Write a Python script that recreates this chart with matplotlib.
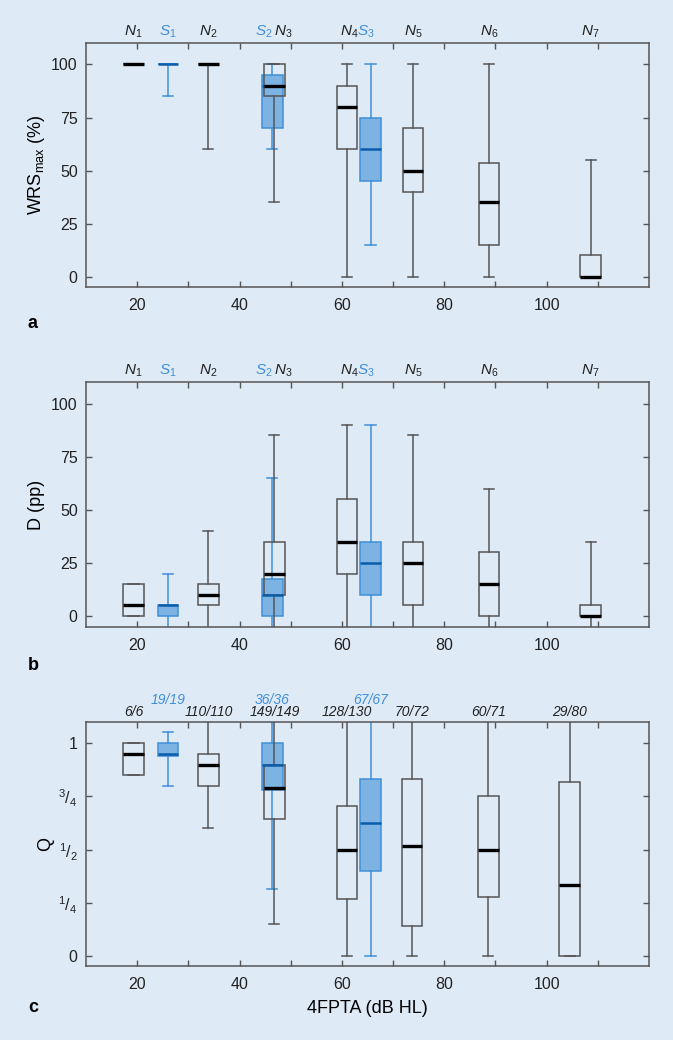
import numpy as np
import matplotlib
matplotlib.use("Agg")
import matplotlib.pyplot as plt
import matplotlib.transforms as mtransforms

plt.rcParams['font.family'] = ['Liberation Sans', 'DejaVu Sans']
plt.rcParams['mathtext.fontset'] = 'custom'
plt.rcParams['mathtext.rm'] = 'Liberation Sans'
plt.rcParams['mathtext.it'] = 'Liberation Sans:italic'

## Data
groups = ["N1", "S1", "N2", "S2", "N3", "N4", "S3", "N5", "N6", "N7"]
kinds = ["N", "S", "N", "S", "N", "N", "S", "N", "N", "N"]
pos_ab = [19.3, 26.0, 33.9, 46.4, 46.8, 61.0, 65.6, 73.9, 88.7, 108.6]
pos_c = [19.3, 26.0, 33.9, 46.4, 46.8, 61.0, 65.6, 73.7, 88.6, 104.5]

# a: WRS_max (%)
wrs_lo = [100, 85, 60, 60, 35, 0, 15, 0, 0, 0]
wrs_q1 = [100, 100, 100, 70, 85, 60, 45, 40, 15, 0]
wrs_med = [100, 100, 100, 90, 90, 80, 60, 50, 35, 0]
wrs_q3 = [100, 100, 100, 95, 100, 90, 75, 70, 53.75, 10]
wrs_hi = [100, 100, 100, 100, 100, 100, 100, 100, 100, 55]

# b: D (pp)
d_lo = [0, -15, -15, -15, -15, -15, -15, -15, -15, -15]
d_q1 = [0, 0, 5, 0, 10, 20, 10, 5, 0, 0]
d_med = [5, 5, 10, 10, 20, 35, 25, 25, 15, 0]
d_q3 = [15, 5, 15, 17.5, 35, 55, 35, 35, 30, 5]
d_hi = [15, 20, 40, 65, 85, 90, 90, 85, 60, 35]

# c: Q
q_lo = [0.85, 0.80, 0.60, 0.315, 0.15, 0.0, 0.0, 0.0, 0.0, 0.0]
q_q1 = [0.85, 0.942, 0.80, 0.78, 0.643, 0.27, 0.40, 0.143, 0.276, 0.0]
q_med = [0.95, 0.95, 0.90, 0.90, 0.788, 0.50, 0.624, 0.517, 0.50, 0.334]
q_q3 = [1.0, 1.0, 0.95, 1.0, 0.90, 0.705, 0.834, 0.832, 0.754, 0.818]
q_hi = [1.0, 1.052, 1.2, 1.2, 1.2, 1.2, 1.2, 1.2, 1.2, 1.2]
q_counts = ["6/6", "19/19", "110/110", "36/36", "149/149",
            "128/130", "67/67", "70/72", "60/71", "29/80"]

# label alignment / nudge (points) for the group names above a and b
label_ha = ["center", "center", "center", "right", "left",
            "right", "left", "center", "center", "center"]
label_dx = [0, 0, 0, 0, 0, 8, -10, 0, 0, 0]

BG = "#dfeaf7"
BLUE_FILL = "#7db3e3"
BLUE_EDGE = "#3f8fd8"
BLUE_MED = "#0b5cab"
GREY = "#555555"


def draw_boxes(ax, pos, lo, q1, med, q3, hi):
    # blue (S) first, filled; black (N) on top, unfilled
    for kind in ["S", "N"]:
        idx = [i for i, k in enumerate(kinds) if k == kind]
        stats = [dict(whislo=lo[i], q1=q1[i], med=med[i], q3=q3[i],
                      whishi=hi[i], fliers=[]) for i in idx]
        if kind == "S":
            ec, mc, fc, mlw = BLUE_EDGE, BLUE_MED, BLUE_FILL, 1.8
        else:
            ec, mc, fc, mlw = GREY, "black", "none", 2.4
        ax.bxp(stats, positions=[pos[i] for i in idx], widths=4.0,
               patch_artist=True, showfliers=False, manage_ticks=False,
               boxprops=dict(facecolor=fc, edgecolor=ec, linewidth=1.1),
               medianprops=dict(color=mc, linewidth=mlw, solid_capstyle="butt"),
               whiskerprops=dict(color=ec, linewidth=1.1),
               capprops=dict(color=ec, linewidth=1.1))


def style_axes(ax, ylim):
    ax.set_facecolor(BG)
    ax.set_xlim(10, 120)
    ax.set_ylim(*ylim)
    ax.set_xticks(np.arange(20, 111, 10))
    ax.set_xticklabels([str(v) if v % 20 == 0 else "" for v in range(20, 111, 10)])
    ax.tick_params(direction="in", top=True, right=True, length=4,
                   width=1.0, color=GREY, labelsize=11.5, labelcolor="#222222")
    ax.tick_params(axis="x", pad=8)
    ax.tick_params(axis="y", pad=6)
    for s in ax.spines.values():
        s.set_color(GREY)
        s.set_linewidth(1.1)


def top_labels(ax, pos):
    trans = mtransforms.blended_transform_factory(ax.transData, ax.transAxes)
    for g, k, p, ha, dx in zip(groups, kinds, pos, label_ha, label_dx):
        txt = r"$\mathit{%s}_{\mathit{%s}}$" % (g[0], g[1])
        ax.annotate(txt, xy=(p, 1.012), xycoords=trans,
                    xytext=(dx, 0), textcoords="offset points",
                    ha=ha, va="bottom", fontsize=11,
                    color=BLUE_EDGE if k == "S" else "#222222")


fig = plt.figure(figsize=(6.73, 10.4), dpi=100)
fig.patch.set_facecolor(BG)
W = 0.8366
axa = fig.add_axes([0.1278, 0.7238, W, 0.2346])
axb = fig.add_axes([0.1278, 0.3974, W, 0.2350])
axc = fig.add_axes([0.1278, 0.0712, W, 0.2346])

# panel a
style_axes(axa, (-5, 110))
axa.set_yticks([0, 25, 50, 75, 100])
draw_boxes(axa, pos_ab, wrs_lo, wrs_q1, wrs_med, wrs_q3, wrs_hi)
top_labels(axa, pos_ab)
axa.set_ylabel(r"WRS$_{\mathrm{max}}$ (%)", fontsize=13, va="center")
axa.yaxis.set_label_coords(-0.088, 0.5)

# panel b
style_axes(axb, (-5, 110))
axb.set_yticks([0, 25, 50, 75, 100])
draw_boxes(axb, pos_ab, d_lo, d_q1, d_med, d_q3, d_hi)
top_labels(axb, pos_ab)
axb.set_ylabel("D (pp)", fontsize=13, va="center")
axb.yaxis.set_label_coords(-0.088, 0.5)

# panel c
style_axes(axc, (-0.047, 1.1))
axc.set_yticks([0, 0.25, 0.5, 0.75, 1.0])
axc.set_yticklabels(["0", r"$^{1}/_{4}$", r"$^{1}/_{2}$", r"$^{3}/_{4}$", "1"])
draw_boxes(axc, pos_c, q_lo, q_q1, q_med, q_q3, q_hi)
trans = mtransforms.blended_transform_factory(axc.transData, axc.transAxes)
for k, p, lab in zip(kinds, pos_c, q_counts):
    y = 1.062 if k == "S" else 1.012
    axc.text(p, y, lab, transform=trans, ha="center", va="bottom",
             fontsize=10, style="italic",
             color=BLUE_EDGE if k == "S" else "#222222")
axc.set_ylabel("Q", fontsize=13, va="center")
axc.yaxis.set_label_coords(-0.071, 0.5)
axc.set_xlabel("4FPTA (dB HL)", fontsize=13, labelpad=6)

for lab, y in [("a", 323), ("b", 665), ("c", 1007)]:
    fig.text(33 / 673, 1 - y / 1040, lab, fontsize=13, fontweight="bold",
             ha="center", va="center")

plt.savefig("out.png", dpi=100, facecolor=BG)
